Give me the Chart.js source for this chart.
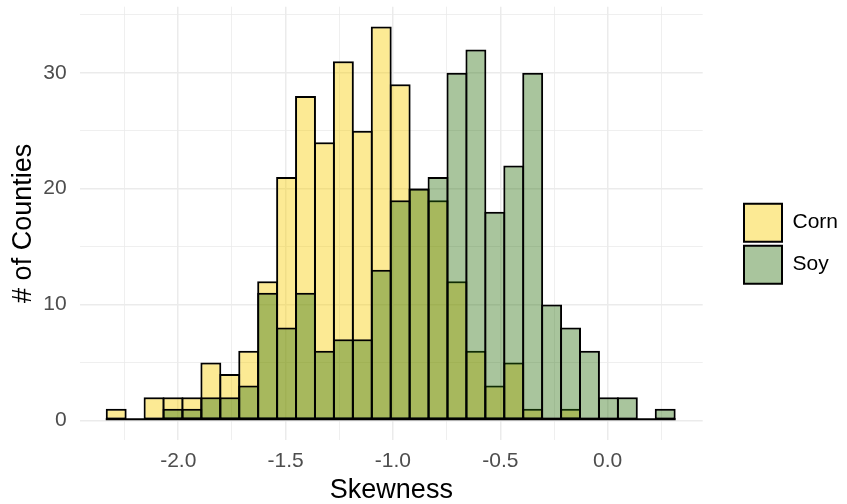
<!DOCTYPE html>
<html><head><meta charset="utf-8">
<script src="https://cdn.jsdelivr.net/npm/chart.js@4"></script>
<style>html,body{margin:0;padding:0;background:#fff}#wrap{width:847px;height:504px;position:relative}</style>
</head><body><div id="wrap"><canvas id="c" width="847" height="504"></canvas></div>
<script>
// ---- data ----
const binCenters = [-2.2889,-2.2008,-2.1126,-2.0244,-1.9363,-1.8481,-1.7599,-1.6718,-1.5836,-1.4954,
  -1.4073,-1.3191,-1.2309,-1.1428,-1.0546,-0.9664,-0.8783,-0.7901,-0.7019,-0.6138,
  -0.5256,-0.4374,-0.3493,-0.2611,-0.1729,-0.0848,0.0034,0.0916,0.1797,0.2679];
const cornCounts = [1,0,2,2,2,5,4,6,12,21,28,24,31,25,34,29,20,19,12,6,3,5,1,0,1,0,0,0,0,0];
const soyCounts  = [0,0,0,1,1,2,2,3,11,8,11,6,7,7,13,19,20,21,30,32,18,22,30,10,8,6,2,2,0,1];
const seriesNames = ['Corn','Soy'];
const xTickLabels = ['-2.0','-1.5','-1.0','-0.5','0.0'];
const yTickLabels = ['0','10','20','30'];
const xTitle = 'Skewness';
const yTitle = '# of Counties';

Chart.defaults.font.family = "'Liberation Sans', Arial, Helvetica, sans-serif";

const findLabel = (arr, v) => arr.find(s => Math.abs(parseFloat(s) - v) < 1e-6);

const baselinePlugin = {
  id: 'baseline',
  afterDatasetsDraw(chart) {
    const {ctx, scales: {x, y}} = chart;
    const half = (binCenters[1] - binCenters[0]) / 2;
    const x0 = x.getPixelForValue(binCenters[0] - half) - 1;
    const x1 = x.getPixelForValue(binCenters[binCenters.length - 1] + half) + 1;
    const y0 = y.getPixelForValue(0);
    ctx.save();
    ctx.strokeStyle = '#000';
    ctx.lineWidth = 2;
    ctx.beginPath();
    ctx.moveTo(x0, y0 - 1);
    ctx.lineTo(x1, y0 - 1);
    ctx.stroke();
    ctx.restore();
  }
};

const legendPlace = {
  id: 'legendPlace',
  beforeDraw(chart) {
    const lg = chart.legend;
    if (!lg) return;
    lg.left = 740; lg.right = 847;
    lg.top = 193.7; lg.bottom = 293.7;
  }
};

const barCommon = {
  borderColor: '#000',
  borderWidth: 2,
  borderSkipped: false,
  barPercentage: 1.106,
  categoryPercentage: 1,
  grouped: false
};

new Chart(document.getElementById('c').getContext('2d'), {
  type: 'bar',
  data: {
    datasets: [
      Object.assign({
        label: seriesNames[0],
        data: binCenters.map((x, i) => ({x: x, y: cornCounts[i]})),
        backgroundColor: 'rgba(249,205,0,0.42)',
        order: 1
      }, barCommon),
      Object.assign({
        label: seriesNames[1],
        data: binCenters.map((x, i) => ({x: x, y: soyCounts[i]})),
        backgroundColor: 'rgba(40,110,10,0.4)',
        order: 0
      }, barCommon)
    ]
  },
  options: {
    responsive: false,
    animation: false,
    devicePixelRatio: 1,
    layout: {padding: {top: 6.7, right: 44.3, left: 0, bottom: 0}},
    scales: {
      x: {
        type: 'linear',
        min: -2.4575, max: 0.4425,
        offset: false,
        grid: {
          offset: false,
          drawTicks: false,
          color: '#EBEBEB',
          lineWidth: (c) => (c.tick && findLabel(xTickLabels, c.tick.value)) ? 1.5 : 0.8
        },
        border: {display: false},
        ticks: {
          stepSize: 0.25,
          includeBounds: false,
          autoSkip: false,
          maxRotation: 0,
          padding: 9,
          color: '#4D4D4D',
          font: {size: 21},
          callback: (v) => findLabel(xTickLabels, v) || ''
        },
        title: {display: true, text: xTitle, color: '#000', font: {size: 27, lineHeight: 1}, padding: {top: 0, bottom: 0}},
        afterFit(s) { s.height = 64; s.paddingLeft = 0; s.paddingRight = 0; }
      },
      y: {
        type: 'linear',
        min: -1.7, max: 35.7,
        grid: {
          drawTicks: false,
          color: '#EBEBEB',
          lineWidth: (c) => (c.tick && findLabel(yTickLabels, c.tick.value)) ? 1.5 : 0.8
        },
        border: {display: false},
        ticks: {
          stepSize: 5,
          includeBounds: false,
          autoSkip: false,
          padding: 13.3,
          color: '#4D4D4D',
          font: {size: 21},
          callback: (v) => findLabel(yTickLabels, v) || ''
        },
        title: {display: true, text: yTitle, color: '#000', font: {size: 27, lineHeight: 1}, padding: {top: 9.8, bottom: 0}},
        afterFit(s) { s.width = 80; s.paddingTop = 0; s.paddingBottom = 0; }
      }
    },
    plugins: {
      legend: {
        position: 'right',
        maxWidth: 100,
        labels: {
          boxWidth: 38, boxHeight: 38, padding: 4,
          color: '#000',
          font: {size: 21},
          sort: (a, b) => a.datasetIndex - b.datasetIndex
        }
      },
      tooltip: {enabled: false}
    }
  },
  plugins: [baselinePlugin, legendPlace]
});
</script>
</body></html>
